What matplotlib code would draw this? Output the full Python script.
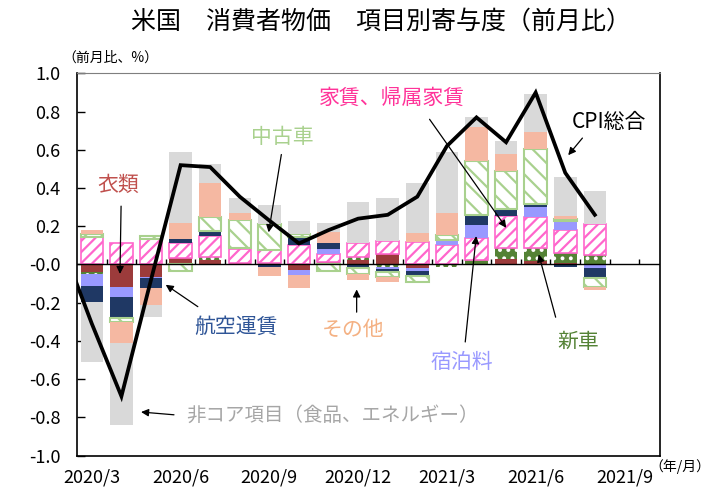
import numpy as np
import matplotlib
matplotlib.use('Agg')
import matplotlib.pyplot as plt

plt.rcParams['font.family'] = ['Noto Sans CJK JP', 'DejaVu Sans']
plt.rcParams['axes.unicode_minus'] = False
plt.rcParams['hatch.linewidth'] = 1.6

# months with bars (2020/3 - 2021/8)
months = ['2020/3', '2020/4', '2020/5', '2020/6', '2020/7', '2020/8', '2020/9',
          '2020/10', '2020/11', '2020/12', '2021/1', '2021/2', '2021/3', '2021/4',
          '2021/5', '2021/6', '2021/7', '2021/8']
tick_labels = ['2020/3', '2020/6', '2020/9', '2020/12', '2021/3', '2021/6', '2021/9']

# contributions (%pt, m/m)
clothing = [-0.04, -0.117, -0.063, 0.035, 0.022, 0.01, 0.0, -0.03, 0.015, 0.025,
            0.055, -0.018, 0.0, 0.005, 0.027, 0.017, 0.008, 0.005]
new_cars = [-0.012, 0.0, 0.0, 0.0, 0.017, 0.0, 0.01, 0.0, 0.0, 0.012,
            -0.012, 0.0, -0.012, 0.018, 0.06, 0.069, 0.052, 0.044]
rent = [0.143, 0.115, 0.134, 0.075, 0.108, 0.07, 0.065, 0.104, 0.038, 0.075,
        0.07, 0.12, 0.10, 0.117, 0.165, 0.16, 0.12, 0.164]
lodging = [-0.06, -0.055, -0.01, 0.005, 0.0, 0.005, -0.005, -0.025, 0.026, -0.005,
           -0.01, -0.017, 0.026, 0.066, 0.0, 0.057, 0.05, -0.02]
airfare = [-0.086, -0.11, -0.05, 0.02, 0.03, 0.0, -0.01, 0.04, 0.034, -0.015,
           -0.015, -0.025, 0.0, 0.055, 0.038, 0.012, -0.012, -0.052]
used_cars = [0.017, -0.02, 0.017, -0.035, 0.073, 0.15, 0.135, 0.018, -0.033, -0.03,
             -0.03, -0.03, 0.026, 0.28, 0.2, 0.29, 0.009, -0.045]
others = [0.019, -0.107, -0.09, 0.082, 0.174, 0.034, -0.045, -0.07, 0.056, -0.03,
          -0.025, 0.043, 0.117, 0.178, 0.091, 0.087, 0.014, -0.014]
non_core = [-0.31, -0.43, -0.06, 0.372, 0.1, 0.08, 0.104, 0.065, 0.048, 0.215,
            0.225, 0.265, 0.32, 0.052, 0.064, 0.2, 0.203, 0.174]

# CPI total, from 2020/2 (first point is outside the plot area)
cpi_total = [0.1, -0.31, -0.69, -0.08, 0.52, 0.51, 0.355, 0.23, 0.11, 0.18,
             0.24, 0.26, 0.355, 0.62, 0.77, 0.64, 0.9, 0.48, 0.26]

pink = '#ff66cc'
green_light = '#a9d18e'
series = [
    (clothing, dict(color='#9c3b3b', linewidth=0)),
    (new_cars, dict(facecolor='#548235', edgecolor='white', hatch='..', linewidth=0)),
    (rent, dict(facecolor='white', edgecolor=pink, hatch='///', linewidth=1.2)),
    (lodging, dict(color='#9999ff', linewidth=0)),
    (airfare, dict(color='#1f3864', linewidth=0)),
    (used_cars, dict(facecolor='white', edgecolor=green_light, hatch='\\\\', linewidth=1.5)),
    (others, dict(color='#f5b8a2', linewidth=0)),
    (non_core, dict(color='#d9d9d9', linewidth=0)),
]

fig = plt.figure(figsize=(7.1, 4.93), dpi=100)
ax = fig.add_axes([0.1085, 0.076, 0.821, 0.775])

x = np.arange(len(months))
pos_bottom = np.zeros(len(months))
neg_bottom = np.zeros(len(months))
for vals, style in series:
    v = np.array(vals)
    bottom = np.where(v >= 0, pos_bottom, neg_bottom)
    ax.bar(x, v, 0.76, bottom=bottom, zorder=2, **style)
    pos_bottom += np.clip(v, 0, None)
    neg_bottom += np.clip(v, None, 0)

# CPI line
ax.plot(np.arange(-1, len(months)), cpi_total, color='black', lw=2.7,
        solid_joinstyle='miter', zorder=4)

# zero line with small category ticks
ax.axhline(0, color='black', lw=1.0, zorder=3)
ax.vlines(np.arange(len(months) + 1) + 0.5, 0, 0.03, color='black', lw=1.0, zorder=3)

ax.set_xlim(-0.5, 19.2)
ax.set_ylim(-1.0, 1.0)
ax.set_yticks(np.arange(-1.0, 1.01, 0.2))
ax.set_yticklabels(['%.1f' % t for t in np.arange(-1.0, 1.01, 0.2)], fontsize=13)
ax.tick_params(axis='y', direction='in', length=6, width=1, pad=12)
ax.set_xticks(np.arange(0, 19, 3))
ax.set_xticklabels(tick_labels, fontsize=13)
ax.tick_params(axis='x', length=0, pad=9)
for s in ['left', 'bottom', 'right']:
    ax.spines[s].set_linewidth(1.2)
ax.spines['top'].set_color('#7f7f7f')

# labels with arrows
arrow = dict(arrowstyle='-|>', color='black', lw=0.9, mutation_scale=11)

def label(text, color, xy_text, tail, head, ha='center', size=15):
    ax.text(xy_text[0], xy_text[1], text, color=color, fontsize=size, ha=ha, va='center', zorder=5)
    ax.annotate('', xy=head, xytext=tail, arrowprops=arrow, zorder=5)

label('家賃、帰属家賃', '#ff3399', (10.14, 0.872), (11.36, 0.772), (14.06, 0.18))
label('CPI総合', 'black', (17.47, 0.746), (16.64, 0.673), (16.04, 0.561))
label('中古車', green_light, (6.43, 0.667), (6.42, 0.59), (5.96, 0.154))
label('衣類', '#c0504d', (0.885, 0.416), (0.99, 0.32), (0.95, -0.064))
label('航空運賃', '#2f5597', (4.87, -0.327), (3.66, -0.229), (2.42, -0.098))
label('その他', '#f4b183', (8.82, -0.343), (8.95, -0.264), (8.95, -0.116))
label('宿泊料', '#9999ff', (12.5, -0.51), (12.61, -0.42), (13.0, 0.163))
label('新車', '#548235', (16.43, -0.406), (15.7, -0.29), (15.08, 0.067))
label('非コア項目（食品、エネルギー）', '#a6a6a6', (3.18, -0.788), (2.87, -0.788),
      (1.57, -0.771), ha='left', size=14)

fig.text(0.537, 0.957, '米国　消費者物価　項目別寄与度（前月比）', fontsize=18,
         ha='center', va='center')
fig.text(0.155, 0.884, '（前月比、%）', fontsize=10, ha='center', va='center')
fig.text(0.958, 0.053, '（年/月）', fontsize=10, ha='center', va='center')

fig.savefig('out.png', dpi=100)
